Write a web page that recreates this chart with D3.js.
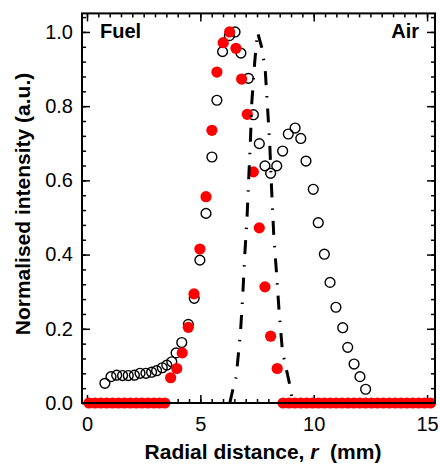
<!DOCTYPE html>
<html>
<head>
<meta charset="utf-8">
<script src="https://cdn.jsdelivr.net/npm/d3@7"></script>
<style>
  html, body { margin: 0; padding: 0; background: #fff; }
  svg { display: block; font-family: "Liberation Sans", Arial, sans-serif; }
</style>
</head>
<body>
<svg id="chart" width="440" height="467"></svg>
<script>
// Measured profile (open circles): radial position (mm) and normalised intensity
const measuredR = [0.79, 1.06, 1.31, 1.57, 1.82, 2.09, 2.34, 2.60, 2.85, 3.07, 3.32, 3.52, 3.74, 3.93,
  4.18, 4.47, 4.73, 4.98, 5.25, 5.51, 5.73, 5.98, 6.28, 6.53, 6.79, 7.12, 7.34, 7.60, 7.85, 8.10,
  8.37, 8.63, 8.88, 9.18, 9.43, 9.66, 9.98, 10.20, 10.47, 10.72, 10.98, 11.28, 11.50, 11.78, 12.04, 12.29];
const measuredI = [0.053, 0.071, 0.075, 0.074, 0.074, 0.075, 0.080, 0.080, 0.083, 0.087, 0.095, 0.102, 0.111, 0.135,
  0.163, 0.212, 0.282, 0.385, 0.511, 0.663, 0.816, 0.947, 0.99, 1.0, 0.943, 0.875, 0.777, 0.699, 0.639, 0.619,
  0.639, 0.679, 0.725, 0.741, 0.713, 0.652, 0.576, 0.486, 0.401, 0.325, 0.258, 0.203, 0.150, 0.105, 0.071, 0.037];

// Computed profile (red dots)
const modelR = [0.09, 0.35, 0.61, 0.87, 1.13, 1.39, 1.65, 1.91, 2.17, 2.43, 2.69, 2.95, 3.19, 3.43,
  3.69, 3.96, 4.20, 4.47, 4.72, 4.98, 5.25, 5.51, 5.73, 6.01, 6.29, 6.57, 6.82, 7.07, 7.34, 7.60, 7.85, 8.10, 8.39,
  8.65, 8.91, 9.17, 9.43, 9.69, 9.95, 10.21, 10.47, 10.73, 10.99, 11.25, 11.51, 11.77, 12.03, 12.29,
  12.55, 12.81, 13.07, 13.33, 13.59, 13.85, 14.11, 14.37, 14.63, 14.89, 15.15];
const modelI = [0, 0, 0, 0, 0, 0, 0, 0, 0, 0, 0, 0, 0, 0,
  0.068, 0.093, 0.135, 0.204, 0.294, 0.415, 0.556, 0.735, 0.892, 0.971, 1.0, 0.956, 0.873, 0.778, 0.623, 0.472, 0.313, 0.180, 0.093,
  0, 0, 0, 0, 0, 0, 0, 0, 0, 0, 0, 0, 0, 0, 0,
  0, 0, 0, 0, 0, 0, 0, 0, 0, 0, 0];

// Reaction-zone profile (dash-dot curve)
const zoneR = [6.30, 6.41, 6.58, 6.77, 6.87, 6.96, 7.06, 7.13, 7.21, 7.27, 7.40, 7.52, 7.70, 7.86, 7.96, 8.06,
  8.14, 8.24, 8.36, 8.47, 8.62, 8.94, 9.07];
const zoneI = [0, 0.03, 0.07, 0.19, 0.29, 0.40, 0.50, 0.60, 0.71, 0.81, 0.92, 1.0, 0.96, 0.90, 0.80, 0.70,
  0.58, 0.45, 0.35, 0.25, 0.14, 0.05, 0];

const xMajor = [0, 5, 10, 15];
const xMinor = [0, 0.5, 1, 1.5, 2, 2.5, 3, 3.5, 4, 4.5, 5, 5.5, 6, 6.5, 7, 7.5, 8, 8.5, 9, 9.5,
  10, 10.5, 11, 11.5, 12, 12.5, 13, 13.5, 14, 14.5, 15];
const yMajor = [0, 0.2, 0.4, 0.6, 0.8, 1.0];
const yMinor = [0, 0.04, 0.08, 0.12, 0.16, 0.2, 0.24, 0.28, 0.32, 0.36, 0.4, 0.44, 0.48, 0.52, 0.56,
  0.6, 0.64, 0.68, 0.72, 0.76, 0.8, 0.84, 0.88, 0.92, 0.96, 1.0, 1.04];

const svg = d3.select("#chart");
const L = 82, R = 435, T = 13.4, B = 403;

const x = d3.scaleLinear().domain([-0.22, 15.35]).range([L, R]);
const y = d3.scaleLinear().domain([0, 1.05]).range([B, T]);

// Axes with inward ticks on all four sides
function tickAxis(axisFn, scale, values, size, labels, fmt) {
  const a = axisFn(scale).tickValues(values).tickSize(size).tickSizeOuter(0);
  if (!labels) a.tickFormat("");
  else a.tickFormat(fmt);
  return a;
}

const gx = svg.append("g").attr("transform", `translate(0,${B})`);
gx.call(tickAxis(d3.axisBottom, x, xMinor, -4, false));
const gxM = svg.append("g").attr("transform", `translate(0,${B})`);
gxM.call(tickAxis(d3.axisBottom, x, xMajor, -8, true, d3.format("d")));
gxM.selectAll("text").attr("y", 14).attr("dy", "0.71em");

const gt = svg.append("g").attr("transform", `translate(0,${T})`);
gt.call(tickAxis(d3.axisTop, x, xMinor, -4, false));
const gtM = svg.append("g").attr("transform", `translate(0,${T})`);
gtM.call(tickAxis(d3.axisTop, x, xMajor, -8, false));

const gy = svg.append("g").attr("transform", `translate(${L},0)`);
gy.call(tickAxis(d3.axisLeft, y, yMinor, -4, false));
const gyM = svg.append("g").attr("transform", `translate(${L},0)`);
gyM.call(tickAxis(d3.axisLeft, y, yMajor, -8, true, d3.format(".1f")));
gyM.selectAll("text").attr("x", -9);

const gr = svg.append("g").attr("transform", `translate(${R},0)`);
gr.call(tickAxis(d3.axisRight, y, yMinor, -4, false));
const grM = svg.append("g").attr("transform", `translate(${R},0)`);
grM.call(tickAxis(d3.axisRight, y, yMajor, -8, false));

svg.selectAll(".domain").remove();
svg.selectAll(".tick line").attr("stroke", "#000").attr("stroke-width", 1.5);
svg.selectAll(".tick text")
  .attr("fill", "#000")
  .style("font-size", "20px")
  .style("font-family", "'Liberation Sans', Arial, sans-serif");

// Plot area
const plot = svg.append("g");
const data = (rs, is) => rs.map((r, i) => ({ r, v: is[i] }));

plot.append("g").selectAll("circle")
  .data(data(measuredR, measuredI))
  .join("circle")
  .attr("cx", d => x(d.r))
  .attr("cy", d => y(d.v))
  .attr("r", 4.9)
  .attr("fill", "none")
  .attr("stroke", "#000")
  .attr("stroke-width", 1.4);

plot.append("g").selectAll("circle")
  .data(data(modelR, modelI))
  .join("circle")
  .attr("cx", d => x(d.r))
  .attr("cy", d => y(d.v))
  .attr("r", 5.6)
  .attr("fill", "#ff0000");

const line = d3.line().x(d => x(d.r)).y(d => y(d.v));
plot.append("path")
  .datum(data(zoneR, zoneI))
  .attr("d", line)
  .attr("fill", "none")
  .attr("stroke", "#000")
  .attr("stroke-width", 3)
  .attr("stroke-dasharray", "14,11,1.5,11");

// Frame
svg.append("rect")
  .attr("x", L).attr("y", T)
  .attr("width", R - L).attr("height", B - T)
  .attr("fill", "none").attr("stroke", "#000").attr("stroke-width", 2);

// Labels
svg.append("text")
  .attr("x", 100).attr("y", 38)
  .style("font-size", "20px").style("font-weight", "bold")
  .text("Fuel");
svg.append("text")
  .attr("x", 419).attr("y", 38)
  .attr("text-anchor", "end")
  .style("font-size", "20px").style("font-weight", "bold")
  .text("Air");

const xt = svg.append("text")
  .attr("x", 263).attr("y", 459)
  .attr("text-anchor", "middle")
  .style("font-size", "21px").style("font-weight", "bold");
xt.append("tspan").text("Radial distance, ");
xt.append("tspan").style("font-style", "italic").text("r");
xt.append("tspan").text("  (mm)").attr("xml:space", "preserve");

svg.append("text")
  .attr("transform", "translate(30,204) rotate(-90)")
  .attr("text-anchor", "middle")
  .style("font-size", "21px").style("font-weight", "bold")
  .text("Normalised intensity (a.u.)");
</script>
</body>
</html>
